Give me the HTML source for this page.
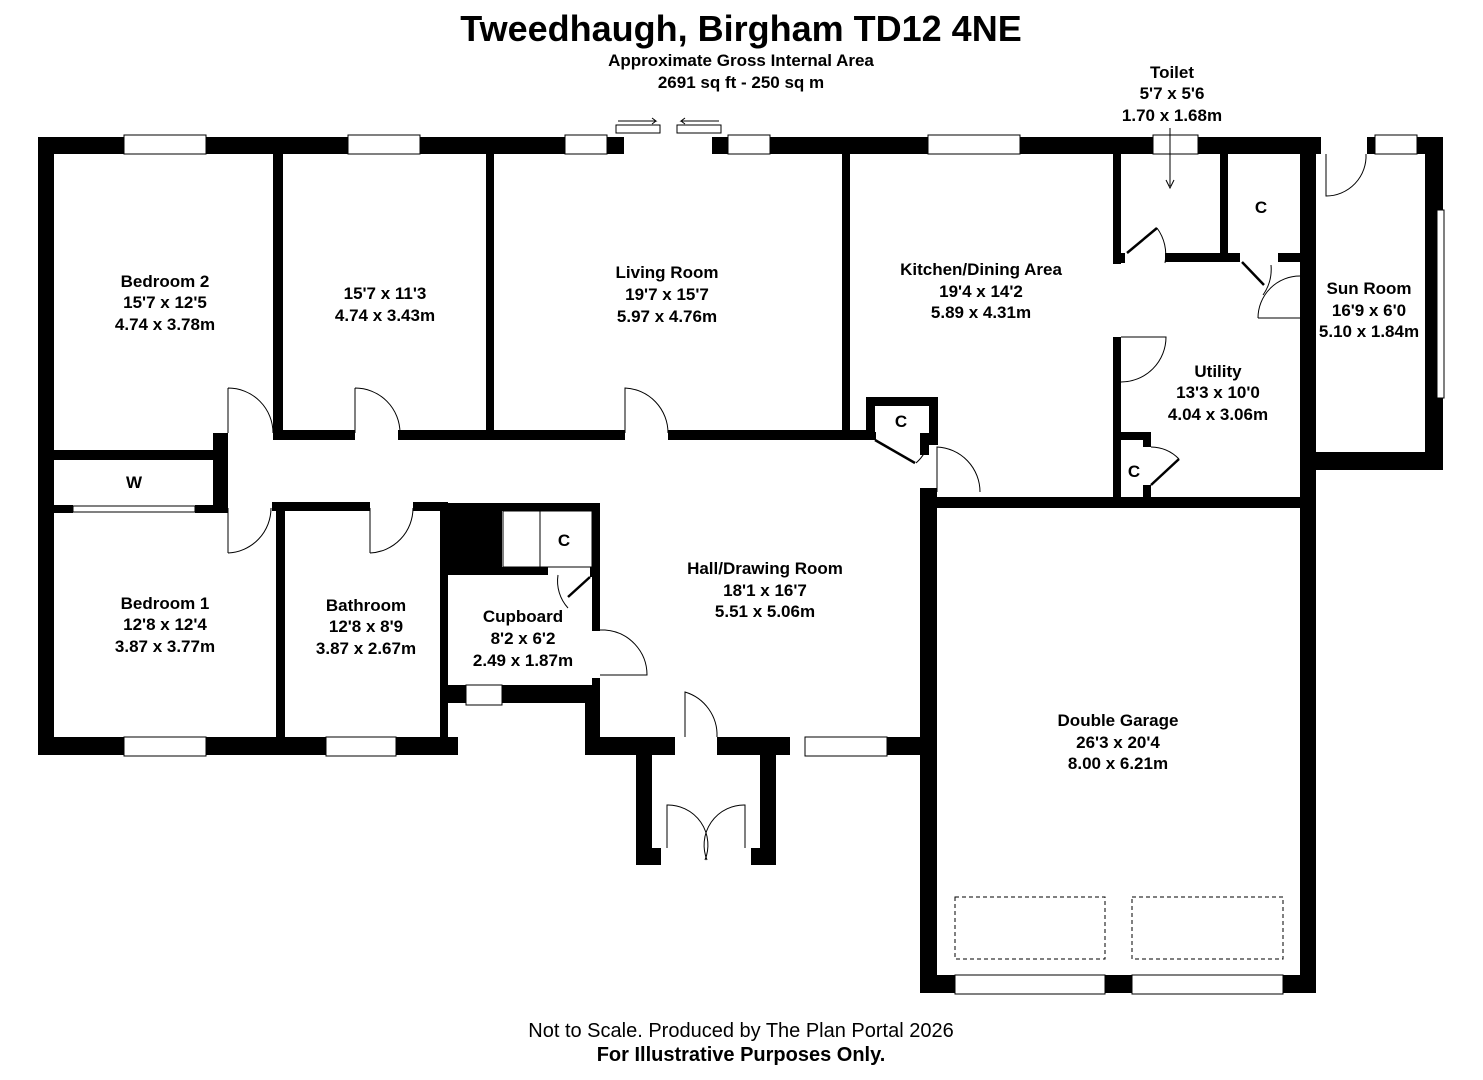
<!DOCTYPE html>
<html><head><style>
body{margin:0;background:#fff;}
svg{display:block;}
text{font-family:"Liberation Sans",Arial,sans-serif;font-weight:bold;fill:#000;text-anchor:middle;}
</style></head><body>
<svg width="1483" height="1080" viewBox="0 0 1483 1080" xmlns="http://www.w3.org/2000/svg">
<g fill="#000">
<rect x="38" y="137" width="586" height="17"/>
<rect x="712" y="137" width="609" height="17"/>
<rect x="38" y="137" width="16" height="618"/>
<rect x="38" y="737" width="420" height="18"/>
<rect x="440" y="503" width="8" height="252"/>
<rect x="440" y="503" width="62" height="64"/>
<rect x="448" y="685" width="150" height="18"/>
<rect x="585" y="685" width="15" height="70"/>
<rect x="592" y="503" width="8" height="128"/>
<rect x="502" y="503" width="98" height="8"/>
<rect x="448" y="567" width="100" height="8"/>
<rect x="590" y="567" width="10" height="10"/>
<rect x="592" y="678" width="8" height="10"/>
<rect x="585" y="737" width="90" height="18"/>
<rect x="717" y="737" width="73" height="18"/>
<rect x="887" y="737" width="33" height="18"/>
<rect x="636" y="737" width="16" height="128"/>
<rect x="760" y="737" width="16" height="128"/>
<rect x="652" y="848" width="9" height="17"/>
<rect x="751" y="848" width="9" height="17"/>
<rect x="920" y="497" width="17" height="496"/>
<rect x="920" y="975" width="396" height="18"/>
<rect x="1300" y="255" width="16" height="738"/>
<rect x="937" y="497" width="370" height="11"/>
<rect x="920" y="488" width="17" height="12"/>
<rect x="1300" y="137" width="16" height="118"/>
<rect x="1367" y="137" width="76" height="17"/>
<rect x="1425" y="137" width="18" height="333"/>
<rect x="1300" y="452" width="143" height="18"/>
<rect x="273" y="154" width="10" height="286"/>
<rect x="486" y="154" width="8" height="286"/>
<rect x="842" y="154" width="8" height="286"/>
<rect x="273" y="430" width="82" height="10"/>
<rect x="398" y="430" width="227" height="10"/>
<rect x="668" y="430" width="200" height="10"/>
<rect x="54" y="450" width="160" height="10"/>
<rect x="213" y="433" width="15" height="74"/>
<rect x="222" y="433" width="6" height="77"/>
<rect x="54" y="505" width="19" height="8"/>
<rect x="195" y="505" width="33" height="8"/>
<rect x="276" y="507" width="9" height="230"/>
<rect x="272" y="502" width="98" height="9"/>
<rect x="413" y="502" width="35" height="9"/>
<rect x="866" y="397" width="72" height="9"/>
<rect x="866" y="397" width="9" height="43"/>
<rect x="929" y="397" width="9" height="48"/>
<rect x="850" y="432" width="26" height="8"/>
<rect x="920" y="433" width="18" height="8"/>
<rect x="920" y="440" width="9" height="15"/>
<rect x="1113" y="154" width="8" height="110"/>
<rect x="1113" y="337" width="8" height="168"/>
<rect x="1220" y="154" width="8" height="101"/>
<rect x="1113" y="253" width="12" height="10"/>
<rect x="1165" y="253" width="75" height="9"/>
<rect x="1278" y="253" width="38" height="9"/>
<rect x="1113" y="432" width="37" height="8"/>
<rect x="1143" y="432" width="8" height="15"/>
<rect x="1143" y="485" width="8" height="15"/>
</g>
<g fill="#fff" stroke="#000" stroke-width="1">
<rect x="124" y="135" width="82" height="19"/>
<rect x="348" y="135" width="72" height="19"/>
<rect x="565" y="135" width="42" height="19"/>
<rect x="728" y="135" width="42" height="19"/>
<rect x="928" y="135" width="92" height="19"/>
<rect x="1153" y="135" width="45" height="19"/>
<rect x="1375" y="135" width="42" height="19"/>
<rect x="1437" y="210" width="7" height="188"/>
<rect x="124" y="737" width="82" height="19"/>
<rect x="326" y="737" width="70" height="19"/>
<rect x="466" y="685" width="36" height="20"/>
<rect x="805" y="737" width="82" height="19"/>
<rect x="955" y="975" width="150" height="19"/>
<rect x="1132" y="975" width="151" height="19"/>
<rect x="616" y="125" width="44" height="8"/>
<rect x="677" y="125" width="44" height="8"/>
<rect x="73" y="506" width="122" height="6"/>
</g>
<g fill="none" stroke="#000" stroke-width="1">
<path d="M618 121h38l-4-3M656 121l-4 3M719 121h-38l4-3M681 121l4 3"/>
<path d="M228 388v45M228 388a45 45 0 0 1 45 45"/>
<path d="M355 388v45M355 388a45 45 0 0 1 45 45"/>
<path d="M625 433v-45a45 45 0 0 1 43 45"/>
<path d="M228 553v-45M228 553a45 45 0 0 0 43 -45"/>
<path d="M370 553v-45M370 553a45 45 0 0 0 43 -45"/>
<path d="M600 630h5a45 45 0 0 1 42 45h-47"/>
<path d="M685 737v-45a45 45 0 0 1 32 45"/>
<path d="M667 848v-43a40 40 0 0 1 38 55M745 848v-43a40 40 0 0 0 -38 55"/>
<path d="M937 492v-45a45 45 0 0 1 43 45"/>
<path d="M1121 337h45a45 45 0 0 1 -45 45"/>
<path d="M1258 318h42M1258 318a42 42 0 0 1 42 -42"/>
<path d="M1326 154v42a40 40 0 0 0 40 -42"/>
<path d="M1165 263a45 45 0 0 0 -8 -35"/>
<path d="M1271 265a45 45 0 0 1 -8 30"/>
<path d="M929 440a40 40 0 0 1 -13 23"/>
<path d="M1151 447a40 40 0 0 1 28 12"/>
<path d="M558 575a40 40 0 0 0 10 33"/>
<rect x="503" y="511" width="89" height="56"/>
<path d="M540 511v56"/>
<rect x="955" y="897" width="150" height="62" stroke-dasharray="4 3"/>
<rect x="1132" y="897" width="151" height="62" stroke-dasharray="4 3"/>
<path d="M1170 128v58"/>
<path d="M1166 180l4 8 4-8"/>
</g>
<g stroke="#000" stroke-width="2.5">
<line x1="1127" y1="253" x2="1157" y2="228"/>
<line x1="1242" y1="262" x2="1264" y2="285"/>
<line x1="875" y1="440" x2="915" y2="463"/>
<line x1="1151" y1="485" x2="1179" y2="459"/>
<line x1="568" y1="597" x2="590" y2="577"/>
</g>
<text x="741" y="41" font-size="36">Tweedhaugh, Birgham TD12 4NE</text>
<text x="741" y="66" font-size="17">Approximate Gross Internal Area</text>
<text x="741" y="88" font-size="17">2691 sq ft - 250 sq m</text>
<g font-size="17">
<text x="1172" y="78">Toilet</text><text x="1172" y="99">5'7 x 5'6</text><text x="1172" y="121">1.70 x 1.68m</text>
<text x="165" y="287">Bedroom 2</text><text x="165" y="308">15'7 x 12'5</text><text x="165" y="330">4.74 x 3.78m</text>
<text x="385" y="299">15'7 x 11'3</text><text x="385" y="321">4.74 x 3.43m</text>
<text x="667" y="278">Living Room</text><text x="667" y="300">19'7 x 15'7</text><text x="667" y="322">5.97 x 4.76m</text>
<text x="981" y="275">Kitchen/Dining Area</text><text x="981" y="297">19'4 x 14'2</text><text x="981" y="318">5.89 x 4.31m</text>
<text x="1261" y="213">C</text>
<text x="1369" y="294">Sun Room</text><text x="1369" y="316">16'9 x 6'0</text><text x="1369" y="337">5.10 x 1.84m</text>
<text x="1218" y="377">Utility</text><text x="1218" y="398">13'3 x 10'0</text><text x="1218" y="420">4.04 x 3.06m</text>
<text x="901" y="427">C</text>
<text x="1134" y="477">C</text>
<text x="134" y="488">W</text>
<text x="564" y="546">C</text>
<text x="765" y="574">Hall/Drawing Room</text><text x="765" y="596">18'1 x 16'7</text><text x="765" y="617">5.51 x 5.06m</text>
<text x="165" y="609">Bedroom 1</text><text x="165" y="630">12'8 x 12'4</text><text x="165" y="652">3.87 x 3.77m</text>
<text x="366" y="611">Bathroom</text><text x="366" y="632">12'8 x 8'9</text><text x="366" y="654">3.87 x 2.67m</text>
<text x="523" y="622">Cupboard</text><text x="523" y="644">8'2 x 6'2</text><text x="523" y="666">2.49 x 1.87m</text>
<text x="1118" y="726">Double Garage</text><text x="1118" y="748">26'3 x 20'4</text><text x="1118" y="769">8.00 x 6.21m</text>
</g>
<text x="741" y="1037" font-size="20" style="font-weight:normal">Not to Scale. Produced by The Plan Portal 2026</text>
<text x="741" y="1061" font-size="20">For Illustrative Purposes Only.</text>
</svg>
</body></html>
